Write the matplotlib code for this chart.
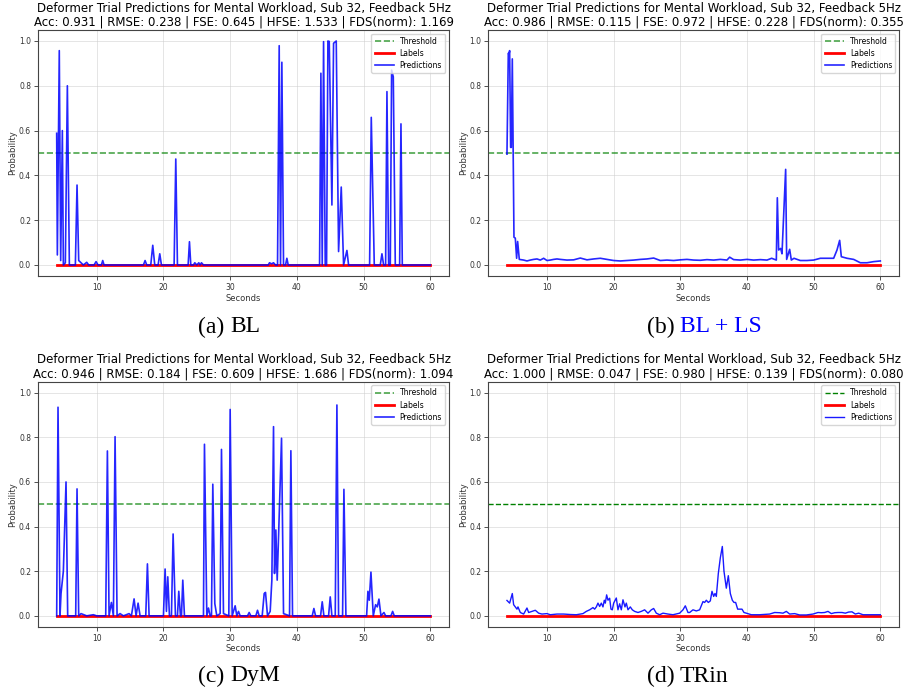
import matplotlib
matplotlib.use("Agg")
import matplotlib.pyplot as plt

# ---------------- data ----------------
title_line1 = "Deformer Trial Predictions for Mental Workload, Sub 32, Feedback 5Hz"
metrics_a = "Acc: 0.931 | RMSE: 0.238 | FSE: 0.645 | HFSE: 1.533 | FDS(norm): 1.169"
metrics_b = "Acc: 0.986 | RMSE: 0.115 | FSE: 0.972 | HFSE: 0.228 | FDS(norm): 0.355"
metrics_c = "Acc: 0.946 | RMSE: 0.184 | FSE: 0.609 | HFSE: 1.686 | FDS(norm): 1.094"
metrics_d = "Acc: 1.000 | RMSE: 0.047 | FSE: 0.980 | HFSE: 0.139 | FDS(norm): 0.080"

label_t = [4.0, 60.0]
label_v = [0.0, 0.0]
threshold = 0.5

# (a) BL
a_t = [4.0, 4.1, 4.39, 4.6, 4.85, 5.0, 5.3, 5.6, 5.9, 6.8, 7.05, 7.3, 8.0, 8.5, 8.8, 9.6, 9.9, 10.2,
       10.7, 10.9, 11.1, 17.0, 17.25, 17.5, 18.1, 18.4, 18.7, 19.2, 19.45, 19.7, 21.6, 21.85, 22.1,
       23.7, 23.9, 24.1, 24.5, 24.7, 25.0, 25.3, 25.5, 25.7, 26.0, 35.7, 35.9, 36.2, 36.5, 36.8,
       37.1, 37.35, 37.55, 37.75, 38.0, 38.3, 38.5, 38.7, 43.4, 43.6, 43.8, 44.0, 44.25, 44.45,
       44.65, 44.85, 45.25, 45.5, 45.9, 46.25, 46.65, 47.0, 47.5, 47.75, 50.9, 51.15, 51.6,
       52.5, 52.75, 53.0, 53.3, 53.5, 53.75, 54.0, 54.2, 54.45, 54.75, 55.4, 55.6, 55.8, 60.0]
a_v = [0.588, 0.045, 0.957, 0.02, 0.60, 0.0, 0.01, 0.80, 0.0, 0.0, 0.357, 0.02, 0.0, 0.012, 0.0,
       0.0, 0.015, 0.0, 0.0, 0.02, 0.0, 0.0, 0.02, 0.0, 0.0, 0.088, 0.0, 0.0, 0.05, 0.0, 0.0,
       0.473, 0.0, 0.0, 0.104, 0.0, 0.0, 0.01, 0.0, 0.01, 0.0, 0.01, 0.0, 0.0, 0.01, 0.005, 0.01,
       0.0, 0.0, 0.979, 0.0, 0.905, 0.0, 0.0, 0.03, 0.0, 0.0, 0.856, 0.0, 0.997, 0.0, 0.0, 1.0,
       0.998, 0.268, 0.99, 1.0, 0.06, 0.348, 0.0, 0.065, 0.0, 0.0, 0.659, 0.0, 0.0, 0.05, 0.0,
       0.0, 0.774, 0.0, 0.0, 0.87, 0.84, 0.0, 0.0, 0.63, 0.0, 0.0]

# (b) BL + LS
b_t = [4.0, 4.2, 4.3, 4.4, 4.55, 4.65, 4.8, 5.05, 5.25, 5.45, 5.6, 5.85, 6.5, 7.0, 7.5, 8.0,
       8.5, 9.0, 9.5, 10.0, 10.5, 11.0, 11.5, 12.0, 13.0, 14.0, 15.0, 16.0, 17.0, 18.0, 19.0,
       20.0, 21.0, 22.0, 23.0, 24.0, 25.0, 26.0, 27.0, 28.0, 29.0, 30.0, 31.0, 32.0, 33.0, 34.0,
       35.0, 36.0, 37.0, 37.4, 38.0, 39.0, 40.0, 41.0, 42.0, 43.0, 43.7, 44.4, 44.55, 44.75,
       45.05, 45.25, 45.8, 45.95, 46.4, 46.65, 47.05, 48.0, 49.0, 50.0, 51.0, 52.0, 53.0, 53.5,
       53.9, 54.15, 55.0, 56.0, 57.0, 58.0, 59.0, 60.0]
b_v = [0.495, 0.945, 0.94, 0.957, 0.525, 0.525, 0.92, 0.124, 0.12, 0.03, 0.105, 0.025, 0.022,
       0.018, 0.022, 0.025, 0.027, 0.022, 0.03, 0.02, 0.022, 0.025, 0.027, 0.025, 0.022, 0.023,
       0.031, 0.023, 0.027, 0.03, 0.025, 0.02, 0.018, 0.02, 0.022, 0.025, 0.027, 0.031, 0.02,
       0.022, 0.02, 0.023, 0.025, 0.022, 0.021, 0.024, 0.022, 0.025, 0.022, 0.035, 0.024, 0.022,
       0.025, 0.022, 0.024, 0.022, 0.03, 0.022, 0.30, 0.067, 0.074, 0.05, 0.427, 0.025, 0.07,
       0.022, 0.03, 0.02, 0.02, 0.022, 0.03, 0.03, 0.03, 0.067, 0.11, 0.037, 0.03, 0.025, 0.01,
       0.01, 0.015, 0.018]

# (c) DyM
c_t = [4.0, 4.2, 4.5, 4.65, 5.0, 5.4, 5.65, 6.85, 7.05, 7.3, 7.65, 8.5, 9.5, 10.0, 11.35, 11.6,
       11.85, 12.2, 12.5, 12.75, 13.05, 13.5, 14.0, 14.85, 15.2, 15.6, 15.9, 16.2, 16.5, 17.35,
       17.6, 17.85, 20.0, 20.25, 20.45, 20.65, 20.9, 21.2, 21.45, 21.8, 22.1, 22.3, 22.55, 22.7,
       22.9, 23.15, 26.0, 26.15, 26.5, 26.75, 27.0, 27.2, 27.4, 27.7, 28.0, 28.5, 28.7, 29.0,
       29.8, 30.0, 30.3, 30.75, 31.0, 31.25, 31.5, 32.6, 32.85, 33.1, 33.85, 34.1, 34.35, 34.8,
       35.1, 35.3, 35.6, 36.0, 36.25, 36.5, 36.65, 36.85, 37.05, 37.3, 37.7, 38.0, 38.9, 39.1,
       39.35, 42.3, 42.55, 42.8, 43.55, 43.8, 44.05, 44.75, 45.0, 45.25, 45.75, 46.0, 46.25,
       46.85, 47.05, 47.35, 50.45, 50.65, 50.85, 51.1, 51.45, 51.8, 52.05, 52.3, 52.6, 53.05,
       53.3, 54.1, 54.35, 54.6, 60.0]
c_v = [0.0, 0.935, 0.0, 0.1, 0.2, 0.60, 0.0, 0.0, 0.569, 0.0, 0.01, 0.0, 0.005, 0.0, 0.0, 0.739,
       0.0, 0.06, 0.0, 0.803, 0.0, 0.01, 0.0, 0.01, 0.0, 0.076, 0.0, 0.057, 0.0, 0.0, 0.233, 0.0,
       0.0, 0.21, 0.02, 0.175, 0.0, 0.0, 0.367, 0.0, 0.0, 0.11, 0.0, 0.0, 0.16, 0.0, 0.0, 0.769,
       0.0, 0.035, 0.0, 0.0, 0.59, 0.055, 0.0, 0.01, 0.746, 0.01, 0.0, 0.925, 0.0, 0.045, 0.0,
       0.02, 0.0, 0.0, 0.015, 0.0, 0.0, 0.025, 0.0, 0.0, 0.10, 0.105, 0.0, 0.02, 0.16, 0.848,
       0.19, 0.385, 0.16, 0.40, 0.796, 0.01, 0.0, 0.74, 0.0, 0.0, 0.033, 0.0, 0.0, 0.063, 0.0,
       0.0, 0.085, 0.0, 0.0, 0.945, 0.0, 0.0, 0.567, 0.0, 0.0, 0.11, 0.07, 0.196, 0.0, 0.05,
       0.04, 0.075, 0.0, 0.015, 0.0, 0.0, 0.02, 0.0, 0.0]

# (d) TRin
d_t = [4.0, 4.4, 4.8, 5.0, 5.25, 5.5, 5.65, 6.0, 6.5, 7.0, 7.25, 7.75, 8.25, 8.75, 9.25, 10.0,
       10.5, 11.5, 12.5, 13.5, 14.4, 15.4, 15.9, 16.4, 16.9, 17.15, 17.4, 17.65, 17.9, 18.15,
       18.4, 18.6, 18.75, 18.95, 19.15, 19.4, 19.6, 19.8, 20.0, 20.4, 20.65, 20.9, 21.15, 21.4,
       21.7, 21.9, 22.15, 22.5, 22.8, 23.15, 23.65, 24.15, 24.65, 25.15, 25.65, 26.0, 26.4,
       26.9, 27.4, 28.15, 28.9, 29.9, 30.4, 30.75, 31.15, 31.4, 31.9, 32.4, 32.9, 33.4, 33.65,
       33.9, 34.2, 34.5, 34.75, 35.0, 35.2, 35.4, 35.7, 36.0, 36.3, 36.55, 36.9, 37.2, 37.5,
       37.8, 38.05, 38.3, 38.6, 38.9, 39.25, 39.55, 39.9, 40.65, 41.9, 43.4, 44.15, 44.9, 45.4,
       45.9, 46.4, 47.15, 47.9, 48.9, 49.9, 50.65, 51.15, 51.65, 52.15, 52.65, 53.15, 53.65,
       54.25, 54.75, 55.25, 55.75, 56.25, 56.75, 57.4, 58.5, 60.0]
d_v = [0.069, 0.057, 0.10, 0.05, 0.04, 0.03, 0.04, 0.015, 0.008, 0.035, 0.015, 0.02, 0.025,
       0.012, 0.008, 0.01, 0.005, 0.008, 0.008, 0.006, 0.005, 0.01, 0.02, 0.027, 0.037, 0.03,
       0.04, 0.057, 0.042, 0.057, 0.04, 0.07, 0.057, 0.094, 0.07, 0.079, 0.03, 0.027, 0.057,
       0.08, 0.027, 0.054, 0.027, 0.072, 0.04, 0.057, 0.027, 0.04, 0.027, 0.02, 0.015, 0.02,
       0.027, 0.012, 0.027, 0.033, 0.012, 0.005, 0.012, 0.008, 0.005, 0.012, 0.027, 0.045, 0.015,
       0.015, 0.027, 0.022, 0.027, 0.064, 0.06, 0.07, 0.06, 0.067, 0.11, 0.087, 0.10, 0.087,
       0.19, 0.26, 0.311, 0.20, 0.124, 0.18, 0.10, 0.07, 0.06, 0.06, 0.03, 0.03, 0.03, 0.015,
       0.012, 0.005, 0.005, 0.008, 0.015, 0.014, 0.012, 0.02, 0.008, 0.01, 0.004, 0.004, 0.008,
       0.015, 0.014, 0.015, 0.02, 0.01, 0.014, 0.015, 0.015, 0.012, 0.017, 0.018, 0.008, 0.012,
       0.005, 0.005, 0.005]

captions = ["(a) ", "(b) ", "(c) ", "(d) "]
method_names = ["BL", "BL + LS", "DyM", "TRin"]
method_colors = ["black", "blue", "black", "black"]

# ---------------- figure ----------------
W, H = 905, 694
fig = plt.figure(figsize=(W / 100, H / 100), dpi=100)

def px_axes(left, top, right, bottom):
    return fig.add_axes([left / W, 1 - bottom / H, (right - left) / W, (bottom - top) / H])

panels = [
    (px_axes(38, 29.8, 449, 276.2), a_t, a_v, metrics_a, False),
    (px_axes(488.3, 29.8, 899, 276.2), b_t, b_v, metrics_b, False),
    (px_axes(38, 381.6, 449, 627), c_t, c_v, metrics_c, False),
    (px_axes(488.3, 381.6, 899, 627), d_t, d_v, metrics_d, True),
]

for ax, t, v, metrics, thin in panels:
    if thin:
        ax.axhline(threshold, color="green", ls="--", lw=1.0, label="Threshold")
    else:
        ax.axhline(threshold, color="green", ls="--", lw=1.2, alpha=0.7, label="Threshold")
    ax.plot(label_t, label_v, color="red", lw=2.0, label="Labels")
    if thin:
        ax.plot(t, v, color="blue", lw=1.0, alpha=0.9, label="Predictions")
    else:
        ax.plot(t, v, color="blue", lw=1.2, alpha=0.85, label="Predictions")
    ax.set_xlim(1.2, 62.8)
    ax.set_ylim(-0.05, 1.05)
    ax.set_xticks([10, 20, 30, 40, 50, 60])
    ax.set_yticks([0.0, 0.2, 0.4, 0.6, 0.8, 1.0])
    ax.tick_params(labelsize=5.5, length=3, width=0.6, pad=2, colors="#333333")
    ax.grid(True, color="#cccccc", alpha=0.6, lw=0.6)
    ax.set_xlabel("Seconds", fontsize=6, labelpad=1, color="#333333")
    ax.set_ylabel("Probability", fontsize=6, labelpad=1, color="#333333")
    for s in ax.spines.values():
        s.set_linewidth(0.8)
        s.set_color("#444444")
    ax.set_title(title_line1 + "\n" + metrics, fontsize=8.5, pad=3, linespacing=1.1)
    ax.legend(loc="upper right", fontsize=5.5, frameon=True, handlelength=2.5,
              borderpad=0.4, labelspacing=0.4, framealpha=0.8)

# sub-figure captions
cap_pos = [(230, 327), (680, 327), (230, 676), (680, 676)]
for (cx, cy), pre, name, col in zip(cap_pos, captions, method_names, method_colors):
    fig.text(cx / W, 1 - cy / H, pre, fontsize=17, family="Liberation Serif",
             ha="right", va="center", color="black")
    fig.text(cx / W, 1 - cy / H, name, fontsize=17, family="Liberation Serif",
             ha="left", va="center", color=col)

fig.savefig("out.png", dpi=100)
